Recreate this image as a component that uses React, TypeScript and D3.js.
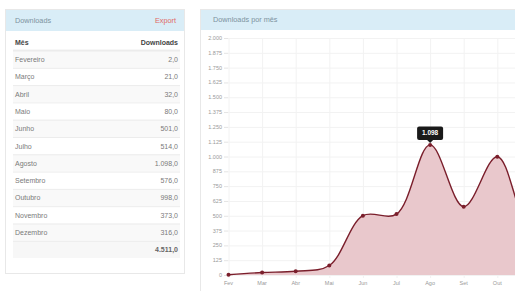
import React from 'react';
import * as d3 from 'd3';

const monthsFull = ['Fevereiro', 'Março', 'Abril', 'Maio', 'Junho', 'Julho', 'Agosto', 'Setembro', 'Outubro', 'Novembro', 'Dezembro'];
const monthsShort = ['Fev', 'Mar', 'Abr', 'Mai', 'Jun', 'Jul', 'Ago', 'Set', 'Out', 'Nov', 'Dez'];
const downloads = [2, 21, 32, 80, 501, 514, 1098, 576, 998, 373, 316];
const yTicks = d3.range(0, 2001, 125);

const font = "'Liberation Sans', Arial, sans-serif";
const fmtInt = (v: number) => v.toLocaleString('de-DE');
const fmtDec = (v: number) => v.toLocaleString('de-DE', { minimumFractionDigits: 1, maximumFractionDigits: 1 });

const App = () => {
  const x = d3.scalePoint<string>().domain(monthsShort).range([228.5, 564.5]);
  const y = d3.scaleLinear().domain([0, 2000]).range([275, 38]);

  const pts: [number, number][] = downloads.map((v, i) => [x(monthsShort[i])!, y(v)]);
  const line = d3.line<[number, number]>().curve(d3.curveCatmullRom.alpha(0.5))(pts)!;
  const area = d3.area<[number, number]>()
    .x(d => d[0]).y0(y(0)).y1(d => d[1])
    .curve(d3.curveCatmullRom.alpha(0.5))(pts)!;

  const rowH = 17.3;
  const rowTop = 50.5;
  const total = d3.sum(downloads);

  // tooltip on the max point
  const maxI = d3.maxIndex(downloads);
  const [tx, ty] = pts[maxI];

  return (
    <svg width={515} height={291} style={{ position: 'fixed', left: 0, top: 0, background: '#fff' }} fontFamily={font}>
      {/* left panel */}
      <rect x={5.5} y={9.5} width={179} height={264} fill="#fff" stroke="#e8e8e8" />
      <rect x={6} y={10} width={178} height={21} fill="#d9edf7" />
      <text x={15} y={22.5} fontSize={7.3} fill="#7d93a0">Downloads</text>
      <text x={176} y={22.5} fontSize={7.3} fill="#e06a66" textAnchor="end">Export</text>

      <text x={15} y={44.5} fontSize={7} fontWeight="bold" fill="#444">Mês</text>
      <text x={178} y={44.5} fontSize={7} fontWeight="bold" fill="#444" textAnchor="end">Downloads</text>
      <line x1={13} x2={180} y1={rowTop} y2={rowTop} stroke="#ddd" strokeWidth={1.5} />
      {monthsFull.map((m, i) => (
        <g key={m}>
          <rect x={13} y={rowTop + i * rowH} width={167} height={rowH} fill={i % 2 === 0 ? '#f9f9f9' : '#fff'} />
          <line x1={13} x2={180} y1={rowTop + i * rowH + 0.5} y2={rowTop + i * rowH + 0.5} stroke="#ececec" />
          <text x={15} y={rowTop + i * rowH + 11.5} fontSize={7} fill="#7a7a7a">{m}</text>
          <text x={178} y={rowTop + i * rowH + 11.5} fontSize={7} fill="#7a7a7a" textAnchor="end">{fmtDec(downloads[i])}</text>
        </g>
      ))}
      <rect x={13} y={rowTop + 11 * rowH} width={167} height={rowH} fill="#f7f7f7" />
      <line x1={13} x2={180} y1={rowTop + 11 * rowH + 0.5} y2={rowTop + 11 * rowH + 0.5} stroke="#ececec" />
      <text x={178} y={rowTop + 11 * rowH + 11.5} fontSize={7} fontWeight="bold" fill="#666" textAnchor="end">{fmtDec(total)}</text>

      {/* right panel */}
      <rect x={200.5} y={9.5} width={340} height={300} fill="#fff" stroke="#e8e8e8" />
      <rect x={201} y={10} width={339} height={20} fill="#d9edf7" />
      <text x={213} y={22} fontSize={7.3} fill="#7d93a0">Downloads por mês</text>

      {yTicks.map(t => (
        <g key={t}>
          <line x1={228} x2={570} y1={y(t) + 0.5} y2={y(t) + 0.5} stroke="#f2f2f2" />
          <line x1={224} x2={228} y1={y(t) + 0.5} y2={y(t) + 0.5} stroke="#e4e4e4" />
          <text x={222} y={y(t) + 2} fontSize={5.5} fill="#999" textAnchor="end">{fmtInt(t)}</text>
        </g>
      ))}
      {monthsShort.map(m => (
        <g key={m}>
          <line x1={x(m)! + 0.5} x2={x(m)! + 0.5} y1={y(2000)} y2={y(0) + 3} stroke="#f2f2f2" />
          {x(m)! < 510 && (
            <text x={x(m)!} y={285} fontSize={5.5} fill="#999" textAnchor="middle">{m}</text>
          )}
        </g>
      ))}

      <path d={area} fill="#e9c8cc" />
      <path d={line} fill="none" stroke="#7a1e2b" strokeWidth={1.4} />
      {pts.map((p, i) => (
        <circle key={i} cx={p[0]} cy={p[1]} r={2} fill="#7a1e2b" />
      ))}

      <g transform={`translate(${tx},${ty})`}>
        <rect x={-13} y={-18.5} width={26} height={13.5} rx={2} fill="#1a1a1a" />
        <path d="M-3,-5 L3,-5 L0,-2 Z" fill="#1a1a1a" />
        <text x={0} y={-9.5} fontSize={6.5} fontWeight="bold" fill="#fff" textAnchor="middle">{fmtInt(downloads[maxI])}</text>
      </g>
    </svg>
  );
};

export default App;
